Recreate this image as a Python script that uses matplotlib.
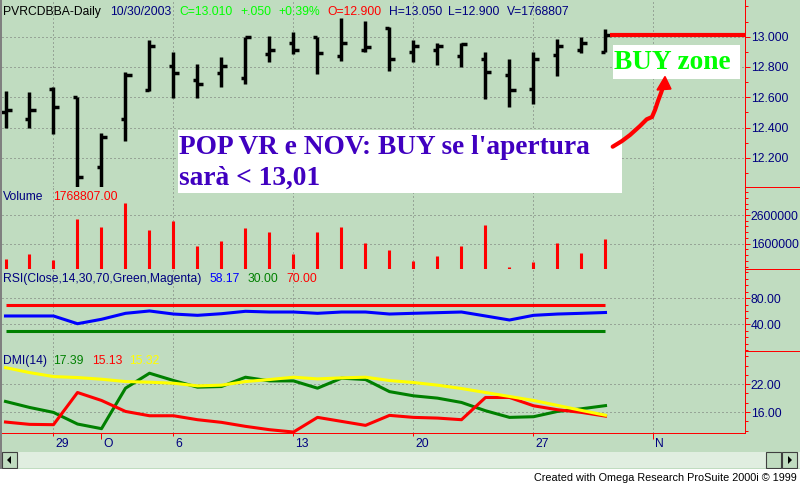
import numpy as np
import pandas as pd
import matplotlib
matplotlib.use('Agg')
import matplotlib.pyplot as plt
import matplotlib.ticker as mticker
import matplotlib.transforms as mtransforms
from matplotlib.patches import Rectangle, Polygon
from matplotlib.lines import Line2D

# ------------------------------------------------------------------ data
trade_dates = pd.bdate_range('2003-09-25', '2003-10-30')
calendar = pd.bdate_range('2003-09-25', '2003-11-07')

opens = [12.500, 12.460, 12.655, 12.600, 12.140, 12.460, 12.650, 12.805, 12.715, 12.760,
         12.725, 12.885, 12.955, 12.995, 12.875, 12.915, 13.060, 12.900, 12.915, 12.875,
         12.855, 12.745, 12.655, 12.880, 12.915, 12.900]
highs = [12.640, 12.635, 12.665, 12.605, 12.365, 12.770, 12.980, 12.900, 12.820, 12.865,
         13.000, 13.005, 13.030, 13.000, 13.120, 13.105, 13.065, 12.975, 12.960, 12.955,
         12.900, 12.850, 12.900, 12.985, 12.995, 13.050]
lows = [12.400, 12.400, 12.360, 12.000, 11.990, 12.310, 12.640, 12.595, 12.595, 12.670,
        12.690, 12.835, 12.885, 12.755, 12.840, 12.900, 12.775, 12.830, 12.810, 12.800,
        12.590, 12.535, 12.555, 12.740, 12.895, 12.900]
closes = [12.515, 12.515, 12.535, 12.075, 12.335, 12.745, 12.940, 12.760, 12.690, 12.805,
          12.995, 12.915, 12.915, 12.895, 12.960, 12.935, 12.850, 12.940, 12.940, 12.950,
          12.765, 12.650, 12.855, 12.940, 12.960, 13.010]
volumes = [1056000, 1231000, 1043000, 2471000, 2193000, 3018000, 2067000, 2401000, 1530000, 1683000,
           2158000, 1997000, 1252000, 1997000, 2193000, 1614000, 1370000, 1008000, 1171000, 1520000,
           2241000, 778000, 973000, 1614000, 1265000, 1768807]
rsi = [52.8, 52.8, 52.8, 40.9, 47.7, 56.9, 60.5, 55.8, 53.8, 56.3,
       60.0, 58.9, 58.9, 56.9, 58.9, 58.9, 55.8, 56.9, 57.9, 58.9,
       52.8, 46.6, 53.8, 55.8, 56.9, 58.17]
rsi_levels = [30, 70]
dmi_plus = [18.29, 17.00, 15.93, 13.43, 12.43, 21.14, 24.36, 22.79, 21.36, 21.50,
            23.50, 22.71, 22.71, 21.14, 23.29, 23.00, 20.40, 19.50, 19.00, 18.07,
            16.29, 14.86, 15.00, 16.14, 16.71, 17.39]
dmi_minus = [13.86, 13.36, 13.29, 20.21, 18.50, 16.14, 15.21, 15.21, 14.36, 13.79,
             12.93, 12.21, 11.71, 14.86, 14.00, 13.14, 15.29, 14.86, 14.71, 14.36,
             19.14, 19.14, 17.36, 16.50, 15.93, 15.13]
adx = [25.57, 24.50, 23.64, 23.43, 23.07, 22.57, 22.43, 22.21, 21.64, 21.79,
       22.57, 23.00, 23.50, 23.14, 23.36, 23.50, 22.79, 22.36, 21.79, 21.07,
       20.21, 19.36, 18.50, 17.43, 16.36, 15.32]
buy_level = 13.01

day_tick_dates = ['2003-09-29', '2003-10-06', '2003-10-13', '2003-10-20', '2003-10-27']
day_tick_labels = ['29', '6', '13', '20', '27']
month_tick_dates = ['2003-10-01', '2003-11-03']
month_tick_labels = ['O', 'N']

price_ticks = [12.2, 12.4, 12.6, 12.8, 13.0]
volume_ticks = [1600000, 2600000]
rsi_ticks = [40, 80]
dmi_ticks = [16, 22]

# ------------------------------------------------------------------ style
plt.rcParams['font.family'] = ['Liberation Sans', 'DejaVu Sans']
W, H = 800, 483
BG = '#c0dcc0'
NAVY = '#000080'
FS = 8.7

fig = plt.figure(figsize=(W / 100, H / 100), dpi=100, facecolor=BG)


def rect(x0, y0, x1, y1):
    return [x0 / W, 1 - y1 / H, (x1 - x0) / W, (y1 - y0) / H]


def fx(px):
    return px / W


def fy(py):
    return 1 - py / H


ax_p = fig.add_axes(rect(2, 0, 745, 187))
ax_v = fig.add_axes(rect(2, 187, 745, 269), sharex=ax_p)
ax_r = fig.add_axes(rect(2, 269, 745, 351), sharex=ax_p)
ax_d = fig.add_axes(rect(2, 351, 745, 433), sharex=ax_p)
ax_p.set_zorder(3)

x = calendar.get_indexer(trade_dates)
mondays = np.where(calendar.weekday == 0)[0]


def style(ax, major, minor_step, fmt):
    ax.set_facecolor('none')
    for s in ['top', 'left', 'bottom']:
        ax.spines[s].set_visible(False)
    ax.spines['right'].set_color('red')
    ax.spines['right'].set_linewidth(0.72)
    ax.yaxis.tick_right()
    ax.yaxis.set_major_locator(mticker.FixedLocator(major))
    ax.yaxis.set_minor_locator(mticker.MultipleLocator(minor_step))
    ax.yaxis.set_major_formatter(mticker.FormatStrFormatter(fmt))
    ax.tick_params(axis='y', which='major', length=3.6, width=0.72, color='red',
                   labelcolor=NAVY, labelsize=FS, pad=0.5)
    ax.tick_params(axis='y', which='minor', length=2.2, width=0.72, color='red')
    ax.grid(axis='y', which='major', color='#707070', lw=0.72, linestyle=(0, (1, 3)), zorder=0.5)
    ax.tick_params(axis='x', which='both', bottom=False, labelbottom=False)
    for m in mondays:
        ax.axvline(m, color='#707070', lw=0.72, linestyle=(0, (1, 3)), zorder=0.5)


style(ax_p, price_ticks, 0.1, '%.3f')
style(ax_v, volume_ticks, 200000, '%d')
style(ax_r, rsi_ticks, 10, '%.2f')
style(ax_d, dmi_ticks, 2, '%.2f')

ax_p.set_xlim((2 - 5.5) / 24, (745 - 5.5) / 24)
ax_p.set_ylim(12.008, 13.242)
ax_v.set_ylim(718000, 3576000)
ax_r.set_ylim(-1.1, 125.1)
ax_d.set_ylim(11.5, 29.14)

# ---------------- price bars
ax_p.vlines(x, lows, highs, color='black', lw=2.5, zorder=3)
ax_p.hlines(opens, x - 0.17, x, color='black', lw=2.5, zorder=3)
ax_p.hlines(closes, x, x + 0.25, color='black', lw=2.5, zorder=3)
ax_p.hlines(buy_level, x[-1] + 0.17, ax_p.get_xlim()[1], color='red', lw=3, zorder=3)

# ---------------- volume
ax_v.vlines(x, 0, volumes, color='red', lw=2.2, zorder=3)

# ---------------- RSI
ax_r.hlines(rsi_levels[1], x[0], x[-1], color='red', lw=2.2, zorder=3)
ax_r.plot(x, rsi, color='blue', lw=2.2, zorder=3)
ax_r.hlines(rsi_levels[0], x[0], x[-1], color='#008000', lw=2.2, zorder=3)

# ---------------- DMI
ax_d.plot(x, dmi_plus, color='#008000', lw=2.2, zorder=3)
ax_d.plot(x, dmi_minus, color='red', lw=2.2, zorder=3)
ax_d.plot(x, adx, color='yellow', lw=2.2, zorder=3)

ax_d.spines['bottom'].set_visible(True)
ax_d.spines['bottom'].set_color('red')
ax_d.spines['bottom'].set_linewidth(0.72)
ax_d.set_xticks(calendar.get_indexer(pd.to_datetime(day_tick_dates)), day_tick_labels)
ax_d.set_xticks(calendar.get_indexer(pd.to_datetime(month_tick_dates)), month_tick_labels, minor=True)
ax_d.tick_params(axis='x', which='major', bottom=True, labelbottom=True, length=2.2, width=0.72,
                 color='red', labelcolor=NAVY, labelsize=FS, pad=1.5)
ax_d.tick_params(axis='x', which='minor', bottom=True, labelbottom=True, length=4.3, width=0.72,
                 color='red', labelcolor=NAVY, labelsize=FS, pad=-0.7)
off = mtransforms.ScaledTranslation(2 / 100, 0, fig.dpi_scale_trans)
for lab in ax_d.xaxis.get_majorticklabels() + ax_d.xaxis.get_minorticklabels():
    lab.set_horizontalalignment('left')
    lab.set_transform(lab.get_transform() + off)

# right-side panel separators
for py in (187, 269, 351):
    fig.add_artist(Line2D([fx(745), 1], [fy(py), fy(py)], color='red', lw=0.72))

# ---------------- labels / legends
def ftext(px, py, s, color, size=FS, **kw):
    fig.text(fx(px), fy(py), s, color=color, fontsize=size, ha='left', va='baseline', **kw)


header = [('PVRCDBBA-Daily', 'black', 3), ('10/30/2003', NAVY, 110), ('C=13.010', '#00ff00', 179),
          ('+.050', '#00ff00', 240), ('+0.39%', '#00ff00', 278), ('O=12.900', 'red', 327),
          ('H=13.050', NAVY, 389), ('L=12.900', NAVY, 448), ('V=1768807', NAVY, 507)]
for s, c, px in header:
    ftext(px, 15, s, c)

ftext(3, 200, 'Volume', NAVY)
ftext(53, 200, '1768807.00', 'red')
ftext(3, 282, 'RSI(Close,14,30,70,Green,Magenta)', NAVY)
ftext(209, 282, '58.17', 'blue')
ftext(248, 282, '30.00', '#008000')
ftext(286, 282, '70.00', 'red')
ftext(3, 364, 'DMI(14)', NAVY)
ftext(53, 364, '17.39', '#008000')
ftext(92, 364, '15.13', 'red')
ftext(129, 364, '15.32', 'yellow')

# ---------------- annotation boxes (drawn in price axes, above the panels)
TF = fig.transFigure


def box(x0, y0, x1, y1):
    ax_p.add_patch(Rectangle((fx(x0), fy(y1)), (x1 - x0) / W, (y1 - y0) / H, transform=TF,
                             facecolor='white', edgecolor='none', clip_on=False, zorder=5))


def btext(px, py, s, color):
    ax_p.text(fx(px), fy(py), s, transform=TF, color=color, fontsize=19.7, fontweight='bold',
              family=['Liberation Serif', 'DejaVu Serif'], ha='left', va='baseline',
              clip_on=False, zorder=6)


box(178, 130, 622, 193)
btext(179, 154, "POP VR e NOV: BUY se l'apertura", '#4000c0')
btext(179, 185, 'sarà < 13,01', '#4000c0')
box(613, 45, 740, 79)
btext(614, 69, 'BUY zone', '#00ff00')

arrow_px = [(612.7, 146.7), (622, 141), (630, 135), (640, 126), (646.7, 119.3), (652, 117),
            (655, 110), (658, 101), (661, 93), (664, 84)]
ax_p.add_line(Line2D([fx(p[0]) for p in arrow_px], [fy(p[1]) for p in arrow_px], transform=TF,
                     color='red', lw=3, solid_capstyle='round', clip_on=False, zorder=7))
ax_p.add_patch(Polygon([(fx(665), fy(76.5)), (fx(657), fy(90)), (fx(671), fy(89))], closed=True,
                       transform=TF, facecolor='red', edgecolor='red', lw=1, clip_on=False, zorder=7))

# ---------------- window chrome: left border, scrollbar, footer
fig.add_artist(Rectangle((0, fy(469)), fx(2), 469 / H, transform=TF, facecolor='#808080',
                         edgecolor='none'))
fig.add_artist(Rectangle((fx(2), fy(468)), fx(798), 16 / H, transform=TF, facecolor='#e0eee0',
                         edgecolor='none'))
for bx0 in (2, 766, 782):
    fig.add_artist(Rectangle((fx(bx0), fy(468)), 15 / W, 16 / H, transform=TF, facecolor=BG,
                             edgecolor='#404040', lw=0.8))
fig.add_artist(Polygon([(fx(7), fy(460)), (fx(11), fy(456)), (fx(11), fy(464))], closed=True,
                       transform=TF, facecolor='black', edgecolor='none'))
fig.add_artist(Polygon([(fx(792), fy(460)), (fx(788), fy(456)), (fx(788), fy(464))], closed=True,
                       transform=TF, facecolor='black', edgecolor='none'))
fig.add_artist(Rectangle((0, 0), 1, 14 / H, transform=TF, facecolor='white', edgecolor='none'))
fig.text(fx(797), fy(481), 'Created with Omega Research ProSuite 2000i © 1999', color='black',
         fontsize=7.8, ha='right', va='baseline')

fig.savefig('out.png', dpi=100, facecolor=BG)
